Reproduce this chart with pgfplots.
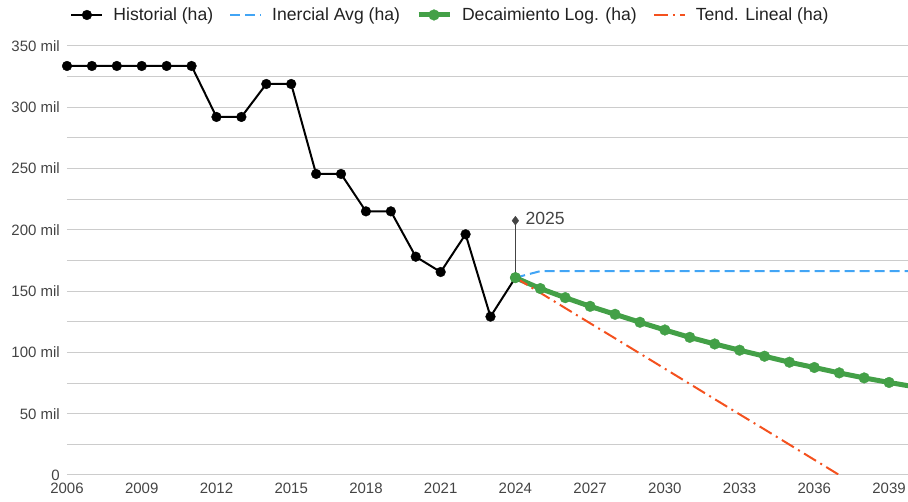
\documentclass[border=0pt]{standalone}
\usepackage{fontspec}
\setmainfont{Liberation Sans}
\usepackage{pgfplots}
\pgfplotsset{compat=1.18}
\definecolor{cblue}{HTML}{42A5F5}
\definecolor{cgreen}{HTML}{43A047}
\definecolor{cred}{HTML}{F4511E}
\definecolor{cgrid}{HTML}{CCCCCC}
\definecolor{ctext}{HTML}{444444}
\definecolor{clegend}{HTML}{222222}
\begin{document}
\begin{tikzpicture}
\begin{axis}[
  scale only axis, width=841pt, height=429pt,
  xmin=2006, xmax=2039.76, ymin=0, ymax=350,
  axis line style={draw=none},
  major tick length=0pt, minor tick length=0pt,
  xtick={2006,2009,2012,2015,2018,2021,2024,2027,2030,2033,2036,2039},
  xticklabels={2006,2009,2012,2015,2018,2021,2024,2027,2030,2033,2036,2039},
  ytick={0,50,100,150,200,250,300,350},
  yticklabels={0,50 mil,100 mil,150 mil,200 mil,250 mil,300 mil,350 mil},
  minor ytick={25,75,125,175,225,275,325},
  ymajorgrids, yminorgrids,
  major grid style={cgrid, line width=1pt},
  minor grid style={cgrid, line width=1pt},
  /pgf/number format/assume math mode=true,
  tick label style={font=\fontsize{15}{18}\selectfont, text=ctext, inner sep=0pt},
  xticklabel style={anchor=north, yshift=-8pt},
  yticklabel style={anchor=east, xshift=-7pt},
  legend columns=4,
  legend style={at={(0.4548,1.0723)}, anchor=center, draw=none, fill=none,
    font=\fontsize{17.6}{21}\selectfont, text=clegend, inner sep=0pt,
    nodes={inner sep=0pt},
    /tikz/every odd column/.append style={column sep=10pt},
    /tikz/every even column/.append style={column sep=16pt}},
  legend image code/.code={\draw[mark repeat=2,mark phase=2,#1] plot coordinates {(0pt,0pt)(15.5pt,0pt)(31pt,0pt)};},
  clip=true,
]
% annotation
\addplot[forget plot, color=ctext, line width=1pt] coordinates {(2024,161) (2024,207.5)};
\addplot[forget plot, only marks, mark=diamond*, mark size=4.5pt, color=ctext, mark options={line width=0.3pt}] coordinates {(2024,207.5)};
\node[anchor=west, xshift=10pt, yshift=2pt, inner sep=0pt, text=ctext, font=\fontsize{17.6}{21}\selectfont] at (axis cs:2024,207.5) {2025};

\addplot[color=black, line width=2pt, mark=*, mark size=4.9pt, mark options={solid, line width=0.3pt}] coordinates {
(2006,333.7) (2007,333.7) (2008,333.7) (2009,333.7) (2010,333.7) (2011,333.7)
(2012,292.1) (2013,292.1) (2014,319.0) (2015,319.0) (2016,245.6) (2017,245.6)
(2018,215.1) (2019,215.1) (2020,178.1) (2021,165.6) (2022,196.4) (2023,129.2) (2024,161.0)
};
\addlegendentry{Historial (ha)}

\addplot[color=cblue, line width=2pt, dash pattern=on 10pt off 5pt] coordinates {
(2024,161.0) (2025,166.3) (2026,166.3) (2027,166.3) (2028,166.3) (2029,166.3) (2030,166.3)
(2031,166.3) (2032,166.3) (2033,166.3) (2034,166.3) (2035,166.3) (2036,166.3) (2037,166.3)
(2038,166.3) (2039,166.3) (2040,166.3)
};
\addlegendentry{Inercial Avg (ha)}

\addplot[color=cgreen, line width=5pt, mark=*, mark size=5.4pt, mark options={solid, line width=0.3pt}] coordinates {
(2024,161.0) (2025,152.1) (2026,144.7) (2027,137.6) (2028,131.1) (2029,124.6) (2030,118.3)
(2031,112.3) (2032,106.9) (2033,101.8) (2034,96.9) (2035,92.0) (2036,87.7) (2037,83.3)
(2038,79.2) (2039,75.5) (2040,72.0)
};
\addlegendentry{Decaimiento Log. (ha)}

\addplot[color=cred, line width=2pt, dash pattern=on 14pt off 5pt on 2pt off 5pt] coordinates {
(2024,161.0) (2025,148.6) (2026,136.2) (2027,123.8) (2028,111.5) (2029,99.1) (2030,86.7)
(2031,74.3) (2032,61.9) (2033,49.5) (2034,37.2) (2035,24.8) (2036,12.4) (2037,0.0)
};
\addlegendentry{Tend. Lineal (ha)}
\end{axis}
\pgfresetboundingbox
\path[use as bounding box] ([xshift=-67pt,yshift=-27pt]current axis.south west) rectangle ([yshift=46pt]current axis.north east);
\end{tikzpicture}
\end{document}
